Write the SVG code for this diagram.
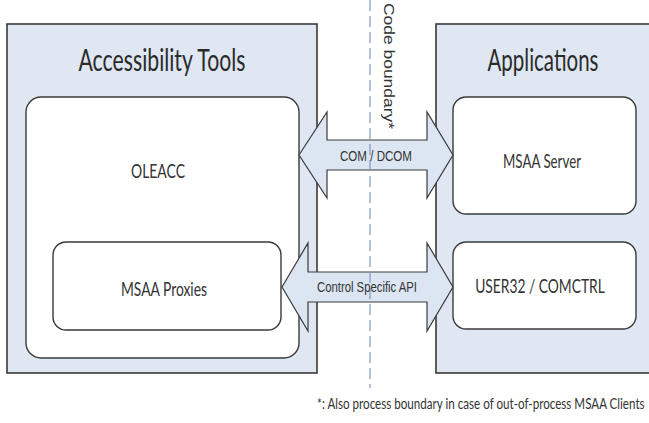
<svg xmlns="http://www.w3.org/2000/svg" width="649" height="423" viewBox="0 0 649 423">
<style>
.outer{fill:#dfe7f2;stroke:#3a3a3a;stroke-width:1.6}
.inner{fill:#ffffff;stroke:#3a3a3a;stroke-width:1.4}
.arrow{fill:#dce6f2;stroke:#3a3a3a;stroke-width:1.2}
.title{font-family:Lato,"Open Sans",sans-serif;font-size:30px;fill:#2b2b2b;text-anchor:middle}
.lbl{font-family:Lato,"Open Sans",sans-serif;font-size:20px;fill:#333;text-anchor:middle}
.alb{font-family:"Liberation Sans",Arial,sans-serif;font-size:14px;fill:#333;text-anchor:middle}
.note{font-family:Lato,"Open Sans",sans-serif;font-size:16px;fill:#333}
.dash{stroke:#7f98bd;stroke-width:1.2;stroke-dasharray:11 5;fill:none}
</style>
<rect width="649" height="423" fill="#ffffff"/>
<g id="accessibility-tools">
<rect class="outer" x="7" y="24" width="310" height="349"/>
<text class="title" x="162" y="71" textLength="167" lengthAdjust="spacingAndGlyphs">Accessibility Tools</text>
</g>
<g id="applications">
<rect class="outer" x="436" y="24" width="230" height="349"/>
<text class="title" x="543" y="71" textLength="111" lengthAdjust="spacingAndGlyphs">Applications</text>
</g>
<g id="oleacc">
<rect class="inner" x="26" y="97" width="273" height="261" rx="15"/>
<text class="lbl" x="158" y="178" textLength="54" lengthAdjust="spacingAndGlyphs">OLEACC</text>
</g>
<g id="msaa-proxies">
<rect class="inner" x="53" y="242" width="228" height="88" rx="13"/>
<text class="lbl" x="164" y="296" textLength="86" lengthAdjust="spacingAndGlyphs">MSAA Proxies</text>
</g>
<g id="msaa-server">
<rect class="inner" x="453" y="97" width="183" height="117" rx="13"/>
<text class="lbl" x="542" y="168" textLength="78" lengthAdjust="spacingAndGlyphs">MSAA Server</text>
</g>
<g id="user32-comctrl">
<rect class="inner" x="453" y="242" width="183" height="87" rx="13"/>
<text class="lbl" transform="translate(540,293) scale(0.8,1)" x="0" y="0" textLength="162" lengthAdjust="spacingAndGlyphs">USER32 / COMCTRL</text>
</g>
<g id="connectors">
<path class="arrow" d="M299,155 L327,112 L327,140 L427,140 L427,112 L453,155 L427,198 L427,170 L327,170 L327,198 Z"/>
<path class="arrow" d="M282,287 L308,243 L308,272 L427,272 L427,243 L453,287 L427,331 L427,302 L308,302 L308,331 Z"/>
<line class="dash" x1="370" y1="0" x2="370" y2="388"/>
<text class="alb" x="376" y="161" textLength="72" lengthAdjust="spacingAndGlyphs">COM / DCOM</text>
<text class="alb" x="367" y="292" textLength="100" lengthAdjust="spacingAndGlyphs">Control Specific API</text>
</g>
<g id="code-boundary">
<text font-family="Liberation Sans, Arial, sans-serif" font-size="15" fill="#333" transform="translate(384,3) rotate(90)" textLength="126" lengthAdjust="spacingAndGlyphs">Code boundary*</text>
</g>
<g id="footnote">
<text class="note" transform="translate(317,409) scale(0.72,1)" x="0" y="0" textLength="455" lengthAdjust="spacingAndGlyphs">*: Also process boundary in case of out-of-process MSAA Clients</text>
</g>
</svg>
